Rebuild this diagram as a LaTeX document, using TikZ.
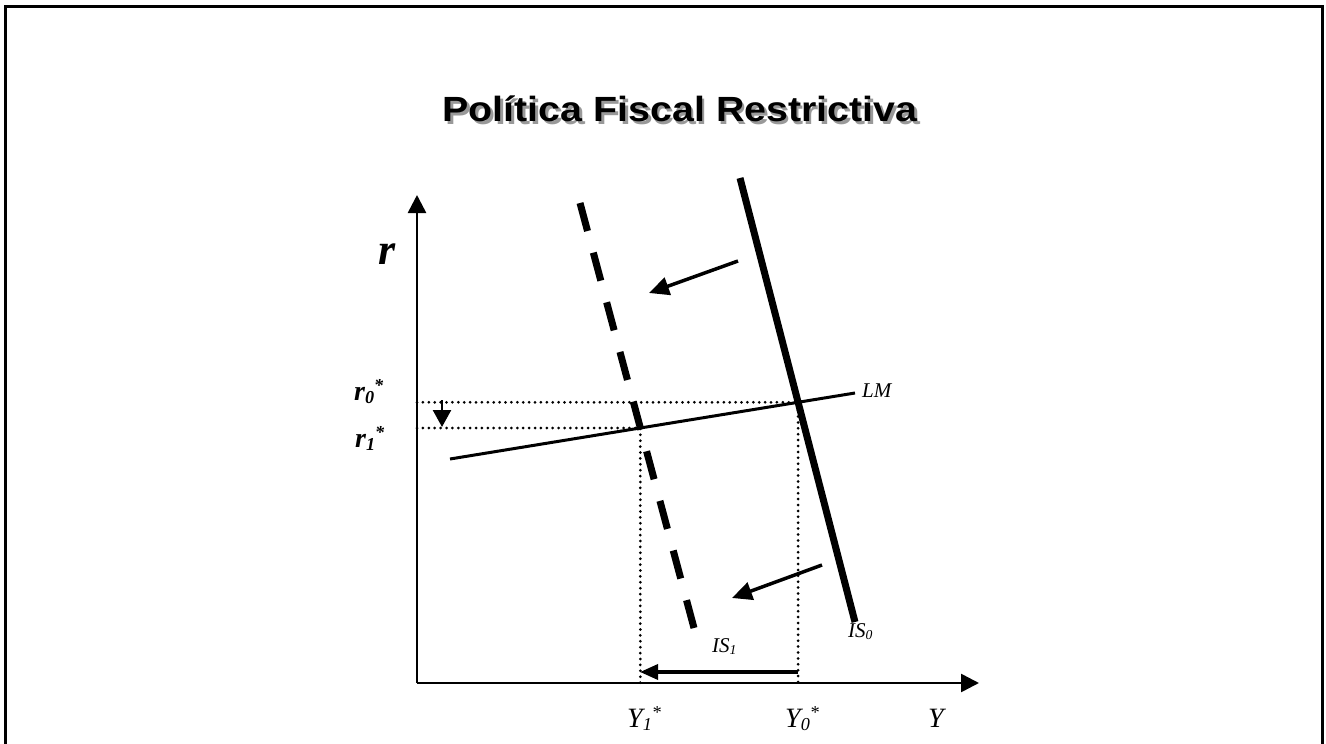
\documentclass[tikz,border=0pt]{standalone}
\usepackage{fontspec}
\setmainfont{Liberation Serif}
\newfontfamily\titlefont{Liberation Sans}
\usepackage{graphicx}
\usetikzlibrary{arrows.meta}
\newcommand\lsub[1]{\raisebox{-0.12em}{\scalebox{0.65}{#1}}}
\newcommand\lsup[1]{\raisebox{0.32em}{\scalebox{0.65}{#1}}}
\begin{document}
\begin{tikzpicture}[x=1pt,y=-1pt,
  frame/.style={line width=3pt},
  axis/.style={line width=2.6pt,-{Triangle[length=18pt,width=18pt]}},
  iszero/.style={line width=7pt},
  isone/.style={line width=7pt,dash pattern=on 29pt off 22.4pt},
  lmline/.style={line width=3pt},
  dotline/.style={line width=3pt,line cap=round,dash pattern=on 0pt off 5.9pt},
  shiftarrow/.style={line width=3.5pt,-{Triangle[length=20pt,width=18pt]}},
  smallarrow/.style={line width=2.5pt,-{Triangle[length=17pt,width=18pt]}},
  titlestyle/.style={inner sep=0pt,anchor=base,xscale=1.125,font=\fontsize{35}{39}\selectfont\titlefont\bfseries},
  lab/.style={inner sep=0pt,anchor=base west,font=\fontsize{28}{30}\selectfont\itshape},
  smlab/.style={inner sep=0pt,anchor=base west,font=\fontsize{21}{24}\selectfont\itshape},
  rlab/.style={inner sep=0pt,anchor=base west,font=\fontsize{28}{30}\selectfont\bfseries\itshape}]
\useasboundingbox (0,0) rectangle (1326,744);
% frame
\coordinate (fa) at (5,744); \coordinate (fb) at (5,6);
\coordinate (fc) at (1322,6); \coordinate (fd) at (1322,744);
\draw[frame] (fa) -- (fb) -- (fc) -- (fd);
% title
\node[titlestyle,text=black!40] (tshadow) at (682.5,124) {Política Fiscal Restrictiva};
\node[titlestyle] (title) at (680,121) {Política Fiscal Restrictiva};
% axes
\coordinate (O) at (417,683);
\coordinate (ytop) at (417,195);
\coordinate (xend) at (979,683);
\draw[axis] (O) -- (ytop);
\draw[axis] (O) -- (xend);
% curves
\coordinate (is0a) at (740,178); \coordinate (is0b) at (855,622);
\coordinate (is1a) at (580,203); \coordinate (is1b) at (694,628);
\coordinate (lma) at (450,459); \coordinate (lmb) at (855,393);
\coordinate (E0) at (798.1,402.3);
\coordinate (E1) at (640.3,428.0);
\draw[dotline] (417,402.3) -- (E0) -- (798.1,683);
\draw[dotline] (417,428.0) -- (E1) -- (640.3,683);
\draw[lmline] (lma) -- (lmb);
\draw[iszero] (is0a) -- (is0b);
\draw[isone] (is1a) -- (is1b);
% arrows
\coordinate (sa1) at (738,261); \coordinate (sb1) at (649,293);
\coordinate (sa2) at (822,565); \coordinate (sb2) at (732,598);
\draw[shiftarrow] (sa1) -- (sb1);
\draw[shiftarrow] (sa2) -- (sb2);
\coordinate (va) at (442,400); \coordinate (vb) at (442,427);
\draw[smallarrow] (va) -- (vb);
\coordinate (ha) at (798,672); \coordinate (hb) at (640,672);
\draw[line width=3.5pt,-{Triangle[length=18pt,width=15pt]}] (ha) -- (hb);
% labels
\node[inner sep=0pt,font=\fontsize{44}{46}\selectfont\bfseries\itshape] (rl) at (387,254) {r};
\node[rlab] (r0) at (354,400) {r\lsub{0}\lsup{*}};
\node[rlab] (r1) at (355,447) {r\lsub{1}\lsup{*}};
\node[lab] (y1) at (627,727) {Y\lsub{1}\lsup{*}};
\node[lab] (y0) at (785,727) {Y\lsub{0}\lsup{*}};
\node[lab] (yl) at (928,727) {Y};
\node[smlab] (lm) at (862,397) {LM};
\node[smlab] (is1) at (712,652) {IS\lsub{1}};
\node[smlab] (is0) at (848,637) {IS\lsub{0}};
\end{tikzpicture}
\end{document}
